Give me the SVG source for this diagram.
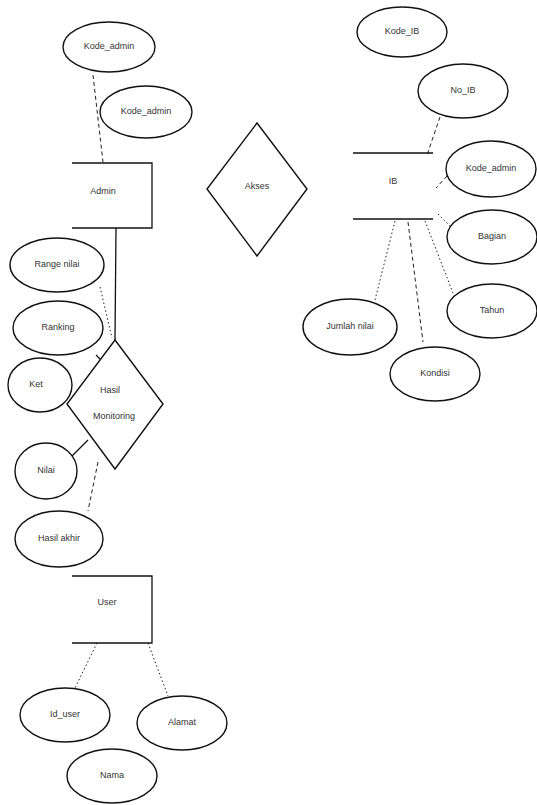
<svg xmlns="http://www.w3.org/2000/svg" width="537" height="805" viewBox="0 0 537 805">
<style>
.bg{fill:#fff}
.sh{fill:#fff;stroke:#111;stroke-width:1.4}
.ln{fill:none;stroke:#111;stroke-width:1.3}
.da{fill:none;stroke:#222;stroke-width:1;stroke-dasharray:4 3}
.do{fill:none;stroke:#222;stroke-width:1;stroke-dasharray:1.5 2.5}
text{font-family:"Liberation Sans",Arial,sans-serif;font-size:9px;fill:#333;text-anchor:middle;dominant-baseline:middle}
</style>
<rect class="bg" width="537" height="805"/>
<g id="connectors">
<line class="da" x1="93" y1="75" x2="103" y2="162"/>
<line class="ln" x1="116" y1="228" x2="115" y2="340"/>
<line class="da" x1="440" y1="117" x2="427" y2="155"/>
<line class="da" x1="447" y1="176" x2="436" y2="188"/>
<line class="do" x1="438" y1="214" x2="452" y2="228"/>
<line class="do" x1="425" y1="221" x2="453" y2="293"/>
<line class="do" x1="395" y1="221" x2="375" y2="300"/>
<line class="da" x1="408" y1="222" x2="423" y2="342"/>
<line class="do" x1="100" y1="287" x2="112" y2="338"/>
<line class="ln" x1="96" y1="355" x2="101" y2="360"/>
<line class="ln" x1="88" y1="440" x2="71" y2="457"/>
<line class="da" x1="98" y1="462" x2="88" y2="511"/>
<line class="do" x1="97" y1="643" x2="75" y2="688"/>
<line class="do" x1="148" y1="643" x2="168" y2="696"/>
</g>
<g id="attr-kode-admin-1"><ellipse class="sh" cx="109" cy="47" rx="46" ry="25"/><text x="109" y="47">Kode_admin</text></g>
<g id="attr-kode-admin-2"><ellipse class="sh" cx="146" cy="112" rx="46" ry="26"/><text x="146" y="112">Kode_admin</text></g>
<g id="admin"><path class="ln" d="M72 163H152V228H72"/><text x="103" y="192">Admin</text></g>
<g id="akses"><polygon class="sh" points="257,123 307,189 257,256 207,189"/><text x="257" y="187">Akses</text></g>
<g id="attr-kode-ib"><ellipse class="sh" cx="402" cy="32" rx="45" ry="25"/><text x="402" y="32">Kode_IB</text></g>
<g id="attr-no-ib"><ellipse class="sh" cx="463" cy="91" rx="45" ry="27"/><text x="463" y="91">No_IB</text></g>
<g id="ib"><path class="ln" d="M353 153H433M353 219H433"/><text x="393" y="182">IB</text></g>
<g id="attr-kode-admin-3"><ellipse class="sh" cx="491" cy="169" rx="45" ry="28"/><text x="491" y="169">Kode_admin</text></g>
<g id="attr-bagian"><ellipse class="sh" cx="492" cy="237" rx="45" ry="27"/><text x="492" y="237">Bagian</text></g>
<g id="attr-tahun"><ellipse class="sh" cx="492" cy="311" rx="45" ry="27"/><text x="492" y="311">Tahun</text></g>
<g id="attr-jumlah-nilai"><ellipse class="sh" cx="350" cy="327" rx="47" ry="28"/><text x="350" y="327">Jumlah nilai</text></g>
<g id="attr-kondisi"><ellipse class="sh" cx="435" cy="374" rx="45" ry="27"/><text x="435" y="374">Kondisi</text></g>
<g id="attr-range-nilai"><ellipse class="sh" cx="57" cy="265" rx="47" ry="27"/><text x="57" y="265">Range nilai</text></g>
<g id="attr-ranking"><ellipse class="sh" cx="58" cy="328" rx="45" ry="27"/><text x="58" y="328">Ranking</text></g>
<g id="attr-ket"><ellipse class="sh" cx="40" cy="385" rx="32" ry="27"/><text x="36" y="385">Ket</text></g>
<g id="hasil-monitoring"><polygon class="sh" points="115,340 163,404 115,469 67,404"/><text x="110" y="391">Hasil</text><text x="114" y="417">Monitoring</text></g>
<g id="attr-nilai"><ellipse class="sh" cx="46" cy="471" rx="31" ry="28"/><text x="46" y="471">Nilai</text></g>
<g id="attr-hasil-akhir"><ellipse class="sh" cx="59" cy="539" rx="44" ry="28"/><text x="59" y="539">Hasil akhir</text></g>
<g id="user"><path class="ln" d="M72 576H152V643H72"/><text x="107" y="603">User</text></g>
<g id="attr-id-user"><ellipse class="sh" cx="65" cy="715" rx="45" ry="27"/><text x="65" y="715">Id_user</text></g>
<g id="attr-alamat"><ellipse class="sh" cx="182" cy="723" rx="45" ry="27"/><text x="182" y="723">Alamat</text></g>
<g id="attr-nama"><ellipse class="sh" cx="112" cy="776" rx="45" ry="27"/><text x="112" y="776">Nama</text></g>
</svg>
